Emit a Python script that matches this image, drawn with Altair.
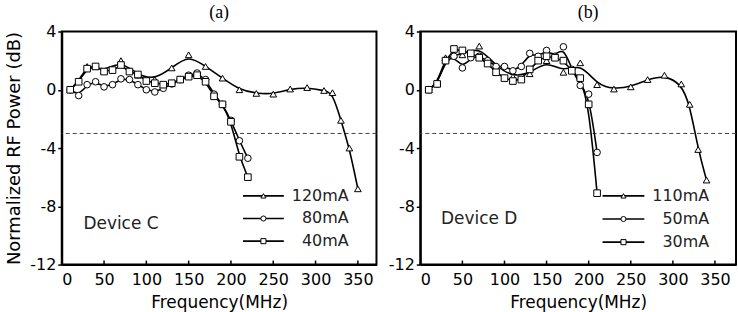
import altair as alt
import pandas as pd

# ---------------- data ----------------
# Panel (a): Device C
a_series = ["120mA", "80mA", "40mA"]
a_freq_120 = [10, 20, 30, 40, 50, 70, 90, 110, 130, 150, 170, 190, 210, 230, 250, 270, 290, 310, 320, 330, 340, 350]
a_pow_120 = [0, 0.6, 1.6, 1.6, 1.3, 2.0, 1.0, 0.7, 1.5, 2.4, 1.6, 0.8, 0.0, -0.25, -0.3, 0.05, 0.15, -0.05, -0.2, -2.1, -4.0, -6.8]
a_freq_80 = [10, 20, 30, 40, 50, 60, 70, 80, 90, 100, 110, 120, 130, 140, 150, 160, 170, 180, 190, 200, 210, 220]
a_pow_80 = [0, -0.4, 0.35, 0.55, 0.2, 0.35, 0.75, 0.7, 0.35, 0.0, -0.15, 0.1, 0.4, 0.7, 1.0, 1.15, 0.7, -0.3, -1.0, -2.1, -3.5, -4.7]
a_freq_40 = [10, 20, 30, 40, 50, 60, 70, 80, 90, 100, 110, 120, 130, 140, 150, 160, 170, 180, 190, 200, 210, 220]
a_pow_40 = [0, 0.55, 1.45, 1.6, 1.25, 1.35, 1.7, 1.25, 1.05, 0.6, 0.45, 0.35, 0.45, 0.7, 0.9, 1.0, 0.55, -0.45, -1.0, -2.2, -4.6, -6.0]

# Panel (b): Device D
b_series = ["110mA", "50mA", "30mA"]
b_freq_110 = [10, 20, 30, 40, 50, 70, 90, 110, 130, 150, 170, 190, 210, 230, 250, 270, 290, 310, 320, 330, 340]
b_pow_110 = [0, 0.45, 2.2, 2.4, 2.4, 3.0, 1.6, 0.9, 1.1, 2.0, 1.2, 1.85, 0.35, 0.05, 0.2, 0.7, 1.0, 0.4, -1.0, -4.1, -6.2]
b_freq_50 = [10, 20, 30, 40, 50, 60, 70, 80, 90, 100, 110, 120, 130, 140, 150, 160, 170, 180, 190, 200, 210]
b_pow_50 = [0, 0.4, 2.0, 2.3, 1.5, 2.2, 2.3, 2.0, 1.6, 1.6, 1.3, 1.6, 2.5, 2.3, 2.7, 2.3, 2.95, 1.4, 0.3, -0.3, -4.3]
b_freq_30 = [10, 20, 30, 40, 50, 60, 70, 80, 90, 100, 110, 120, 130, 140, 150, 160, 170, 180, 190, 200, 210]
b_pow_30 = [0, 0.4, 2.0, 2.8, 2.7, 2.5, 2.2, 1.8, 1.2, 0.8, 0.6, 0.7, 1.4, 2.0, 2.3, 2.2, 2.0, 1.3, 0.8, -1.0, -7.1]

x_ticks = [0, 50, 100, 150, 200, 250, 300, 350]
y_ticks = [4, 0, -4, -8, -12]
threshold = [-3]
annot_a = {"text": ["Device C"], "freq": [70], "power": [-9.2]}
annot_b = {"text": ["Device D"], "freq": [70], "power": [-8.9]}


def frame(series, freqs, pows):
    rows = []
    for s, f, p in zip(series, freqs, pows):
        for fi, pi in zip(f, p):
            rows.append({"series": s, "freq": fi, "power": pi})
    return pd.DataFrame(rows)


df_a = frame(a_series, [a_freq_120, a_freq_80, a_freq_40], [a_pow_120, a_pow_80, a_pow_40])
df_b = frame(b_series, [b_freq_110, b_freq_50, b_freq_30], [b_pow_110, b_pow_50, b_pow_30])

H = 234
SANS = "DejaVu Sans"
SHAPES = ["triangle-up", "circle", "square"]


def panel(df, series, xmax, width, title, title_dx, annot, y_title, leg):
    xs = alt.Scale(domain=[0, xmax], nice=False, zero=False)
    ys = alt.Scale(domain=[-12, 4], nice=False, zero=False)
    shape_scale = alt.Scale(domain=series, range=SHAPES)
    x = alt.X("freq:Q", scale=xs,
              axis=alt.Axis(values=x_ticks, title="Frequency(MHz)", tickSize=0,
                            labelPadding=7, titlePadding=7, grid=False))
    y = alt.Y("power:Q", scale=ys,
              axis=alt.Axis(values=y_ticks, tickSize=4, labelPadding=2, grid=False,
                            labelExpr="'' + datum.value",
                            titlePadding=6, title=y_title if y_title else None))
    base = alt.Chart(df)
    lines = base.mark_line(interpolate="basis", color="black", strokeWidth=1.6).encode(
        x=x, y=y, detail="series:N")
    pts = base.mark_point(filled=True, fill="white", stroke="black", strokeWidth=1,
                          size=44, opacity=1).encode(
        x=x, y=y, shape=alt.Shape("series:N", scale=shape_scale, legend=None))
    dash = alt.Chart(pd.DataFrame({"power": threshold})).mark_rule(
        strokeDash=[4, 3], color="#444", strokeWidth=1).encode(y=alt.Y("power:Q", scale=ys))
    ticks = alt.Chart(pd.DataFrame({"freq": x_ticks[1:]})).mark_rule(
        color="black", strokeWidth=1.5).encode(
        x=alt.X("freq:Q", scale=xs), y=alt.value(H), y2=alt.value(H - 4))
    txt = alt.Chart(pd.DataFrame(annot)).mark_text(font=SANS, fontSize=17, color="#222").encode(
        x=alt.X("freq:Q", scale=xs), y=alt.Y("power:Q", scale=ys), text="text:N")
    inner = alt.layer(dash, lines, pts, ticks, txt)

    # legend drawn inside the plot: one row per series
    leg_df = pd.DataFrame({"series": series})
    ly = alt.Y("series:N", scale=alt.Scale(type="point", domain=series,
                                           range=[leg["top"], leg["bottom"]], padding=0),
               axis=None)
    leg_line = alt.Chart(leg_df).mark_rule(color="black", strokeWidth=1.6).encode(
        x=alt.value(leg["x0"]), x2=alt.value(leg["x1"]), y=ly)
    leg_pt = alt.Chart(leg_df).mark_point(filled=True, fill="white", stroke="black",
                                          strokeWidth=1, size=26, opacity=1).encode(
        x=alt.value((leg["x0"] + leg["x1"]) / 2), y=ly,
        shape=alt.Shape("series:N", scale=shape_scale, legend=None))
    leg_txt = alt.Chart(leg_df).mark_text(align="right", baseline="middle", font=SANS,
                                          fontSize=16, color="#222").encode(
        x=alt.value(leg["tx"]), y=ly, text="series:N")
    legend_layer = alt.layer(leg_line, leg_pt, leg_txt)

    return alt.layer(inner, legend_layer).resolve_scale(y="independent").properties(
        width=width, height=H,
        title=alt.TitleParams(title, font="Liberation Serif", fontSize=18, fontWeight="normal",
                              offset=2, anchor="middle", frame="group", color="black",
                              dx=title_dx))


pa = panel(df_a, a_series, 372, 316, "(a)", 0, annot_a, "Normalized RF Power (dB)",
           {"x0": 182, "x1": 223, "tx": 288, "top": 165, "bottom": 210.5})
pb = panel(df_b, b_series, 375, 317, "(b)", 10, annot_b, None,
           {"x0": 183, "x1": 225, "tx": 290, "top": 165, "bottom": 211.5})

chart = alt.hconcat(pa, pb, spacing=8).properties(
    padding={"left": 4, "top": 2, "right": 0, "bottom": 0}
).configure_view(stroke="black", strokeWidth=2).configure_axis(
    labelFont=SANS, labelFontSize=16, labelColor="black", titleFont=SANS, titleFontSize=17,
    titleFontWeight="normal", titleColor="black", domainColor="black", domainWidth=2,
    tickColor="black", tickWidth=1.5
).configure_axisY(titleFontSize=18)

chart.save("out.html", embed_options={"renderer": "svg", "actions": False})
